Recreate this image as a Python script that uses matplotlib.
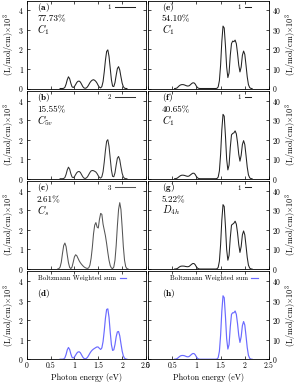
import numpy as np
import matplotlib
matplotlib.use("Agg")
import matplotlib.pyplot as plt

plt.rcParams['font.family'] = 'serif'
plt.rcParams['font.serif'] = ['cmr10']
plt.rcParams['mathtext.fontset'] = 'cm'
plt.rcParams['axes.unicode_minus'] = False
plt.rcParams['axes.formatter.use_mathtext'] = True

# energy grids (eV)
e_a = np.arange(0.700, 2.1001, 0.025)
e_c = np.arange(0.650, 2.1251, 0.025)
e_r = np.arange(0.550, 2.1501, 0.025)

# left column spectra, (L/mol/cm) x 10^3
spec_a = [0, 0, 0, 0.01, 0.06, 0.22, 0.45, 0.60, 0.50, 0.27, 0.09, 0.05, 0.10, 0.20,
          0.31, 0.37, 0.38, 0.33, 0.22, 0.10, 0.03, 0.01, 0.03, 0.09, 0.19, 0.30, 0.38,
          0.43, 0.45, 0.42, 0.36, 0.27, 0.15, 0.06, 0.03, 0.10, 0.35, 0.85, 1.45, 1.90,
          1.98, 1.65, 1.05, 0.45, 0.12, 0.10, 0.30, 0.68, 1.02, 1.12, 0.95, 0.60, 0.28,
          0.09, 0.02, 0, 0]
spec_b = [0, 0, 0, 0.01, 0.06, 0.22, 0.45, 0.59, 0.49, 0.26, 0.09, 0.05, 0.10, 0.21,
          0.31, 0.36, 0.37, 0.32, 0.21, 0.10, 0.03, 0.01, 0.04, 0.10, 0.21, 0.32, 0.40,
          0.42, 0.41, 0.38, 0.34, 0.26, 0.15, 0.06, 0.03, 0.10, 0.35, 0.85, 1.45, 1.92,
          2.00, 1.66, 1.05, 0.45, 0.12, 0.10, 0.30, 0.70, 1.05, 1.14, 0.97, 0.60, 0.28,
          0.09, 0.02, 0, 0]
spec_c = [0, 0.02, 0.10, 0.35, 0.80, 1.20, 1.33, 1.15, 0.72, 0.32, 0.08, 0.02, 0.10,
          0.35, 0.62, 0.73, 0.68, 0.55, 0.42, 0.32, 0.24, 0.17, 0.11, 0.07, 0.04, 0.03,
          0.06, 0.20, 0.55, 1.10, 1.80, 2.25, 2.38, 2.15, 2.10, 2.55, 2.85, 2.80, 2.30,
          2.00, 1.70, 1.30, 0.85, 0.45, 0.18, 0.05, 0.02, 0.10, 0.45, 1.20, 2.20, 3.05,
          3.40, 3.05, 2.15, 1.15, 0.45, 0.12, 0.02, 0]
spec_d = [0, 0, 0, 0.01, 0.07, 0.24, 0.48, 0.60, 0.50, 0.27, 0.10, 0.06, 0.11, 0.21,
          0.31, 0.37, 0.38, 0.33, 0.22, 0.11, 0.04, 0.02, 0.04, 0.10, 0.20, 0.31, 0.40,
          0.47, 0.52, 0.56, 0.60, 0.63, 0.62, 0.55, 0.50, 0.58, 0.90, 1.45, 2.10, 2.55,
          2.58, 2.15, 1.40, 0.75, 0.45, 0.48, 0.75, 1.15, 1.40, 1.42, 1.20, 0.80, 0.42,
          0.17, 0.05, 0.01, 0]

# right column spectra, (L/mol/cm) x 10^3
spec_e = [0, 0.05, 0.3, 0.9, 1.5, 1.85, 2.0, 2.0, 1.85, 1.6, 1.35, 1.25, 1.4, 1.9, 2.5,
          2.9, 2.9, 2.3, 1.2, 0.4, 0.08, 0, 0, 0, 0, 0, 0, 0, 0, 0, 0, 0, 0, 0, 0,
          0.1, 0.8, 4.0, 12.0, 24.0, 32.0, 31.0, 22.0, 11.0, 5.6, 8.0, 17.0, 23.0, 24.3,
          24.0, 24.8, 23.0, 18.0, 12.0, 8.5, 11.0, 17.0, 19.2, 17.5, 12.0, 6.0, 2.0,
          0.5, 0.05, 0]
spec_f = [0, 0.05, 0.25, 0.7, 1.2, 1.6, 1.8, 1.8, 1.7, 1.5, 1.3, 1.2, 1.4, 1.9, 2.4,
          2.8, 2.8, 2.2, 1.1, 0.4, 0.08, 0, 0, 0, 0, 0, 0, 0, 0, 0, 0, 0, 0, 0, 0,
          0.1, 0.8, 4.0, 12.5, 25.0, 33.0, 32.0, 22.0, 10.0, 4.5, 7.0, 16.0, 22.5, 23.2,
          23.5, 24.5, 23.0, 18.5, 12.5, 9.0, 12.0, 17.5, 19.5, 17.5, 12.0, 6.0, 2.0,
          0.5, 0.05, 0]
spec_g = [0, 0.05, 0.2, 0.6, 1.1, 1.4, 1.5, 1.5, 1.45, 1.3, 1.2, 1.15, 1.35, 1.85, 2.4,
          2.8, 2.8, 2.2, 1.1, 0.4, 0.08, 0, 0, 0, 0, 0, 0, 0, 0, 0, 0, 0, 0, 0, 0,
          0.1, 0.8, 4.0, 12.5, 25.0, 33.0, 32.0, 22.0, 10.0, 4.5, 7.0, 16.0, 22.5, 23.0,
          23.5, 24.5, 23.0, 18.5, 12.5, 8.5, 11.5, 17.5, 19.5, 17.5, 12.0, 6.0, 2.0,
          0.5, 0.05, 0]
spec_h = [0, 0.05, 0.3, 0.8, 1.35, 1.75, 1.9, 1.9, 1.8, 1.55, 1.3, 1.2, 1.4, 1.9, 2.5,
          2.9, 2.9, 2.3, 1.2, 0.4, 0.08, 0, 0, 0, 0, 0, 0, 0, 0, 0, 0, 0, 0, 0, 0,
          0.1, 0.8, 4.0, 12.2, 24.5, 32.5, 31.5, 22.0, 10.5, 5.2, 7.5, 16.5, 23.0, 23.8,
          23.8, 24.7, 23.0, 18.2, 12.2, 8.6, 11.5, 17.2, 19.3, 17.5, 12.0, 6.0, 2.0,
          0.5, 0.05, 0]

letters_left = ['a', 'b', 'c', 'd']
letters_right = ['e', 'f', 'g', 'h']
percent_left = ['77.73%', '15.55%', '2.61%']
percent_right = ['54.10%', '40.65%', '5.22%']
group_left = [r'$C_1$', r'$C_{5v}$', r'$C_s$']
group_right = [r'$C_1$', r'$C_1$', r'$D_{4h}$']
legend_left = ['1', '2', '3']
legend_right = ['1', '1', '1']
sum_label = 'Boltzmann Weighted sum'
xtick_labels = ['0', '0.5', '1', '1.5', '2', '2.5']

W, H = 297, 386
fig = plt.figure(figsize=(W / 100, H / 100), dpi=100)

fs_tick = 5.6
fs_txt = 6.6
fs_lab = 5.9
fs_leg = 4.9
ylab = r'(L/mol/cm)$\times10^3$'
blue = '#6a6aff'
line_colors = ['#222222', '#333333', '#555555']

left_x = [e_a, e_a, e_c, e_a]
left_y = [spec_a, spec_b, spec_c, spec_d]
right_y = [spec_e, spec_f, spec_g, spec_h]

row_bottom = [88.5, 178.7, 269.0, 359.2]
row_h = 87.8


def style(ax, right=False):
    ax.tick_params(direction='in', length=2.2, width=0.5, labelsize=fs_tick,
                   top=True, right=True, left=True, bottom=True, pad=2)
    for s in ax.spines.values():
        s.set_linewidth(0.6)
    ax.set_xlim(0, 2.5)
    ax.set_xticks([0, 0.5, 1, 1.5, 2, 2.5])
    if right:
        ax.set_ylim(0, 45)
        ax.set_yticks([0, 10, 20, 30, 40])
        ax.yaxis.tick_right()
        ax.tick_params(axis='y', left=True, right=True, pad=2.5)
        ax.yaxis.set_label_position('right')
        ax.set_ylabel(ylab, fontsize=fs_lab, labelpad=0.8)
    else:
        ax.set_ylim(0, 4.5)
        ax.set_yticks([0, 1, 2, 3, 4])
        ax.set_ylabel(ylab, fontsize=fs_lab, labelpad=2)


def key(ax, xr, hlen):
    ax.legend(loc='upper right', bbox_to_anchor=(xr, 0.96), frameon=False,
              fontsize=fs_leg, markerfirst=False, handlelength=hlen,
              handletextpad=0.5, borderaxespad=0, borderpad=0)


for i in range(4):
    b = row_bottom[i]
    axl = fig.add_axes([26.7 / W, 1 - b / H, 119.3 / W, row_h / H])
    axr = fig.add_axes([148.0 / W, 1 - b / H, 121.0 / W, row_h / H])
    style(axl)
    style(axr, right=True)
    if i < 3:
        axl.plot(left_x[i], left_y[i], color=line_colors[i], lw=0.75, label=legend_left[i])
        axr.plot(e_r, right_y[i], color='#222222', lw=0.75, label=legend_right[i])
        key(axl, 0.908, 3.0)
        key(axr, 0.855, 1.0)
        for ax, xt, let, pc, gr in [(axl, 0.086, letters_left[i], percent_left[i], group_left[i]),
                                    (axr, 0.116, letters_right[i], percent_right[i], group_right[i])]:
            ax.text(xt, 0.925, r'($\mathbf{' + let + '}$)', transform=ax.transAxes,
                    fontsize=fs_txt, va='center', ha='left')
            ax.text(xt, 0.785, pc, transform=ax.transAxes, fontsize=fs_txt,
                    va='center', ha='left')
            ax.text(xt, 0.665, gr, transform=ax.transAxes, fontsize=fs_txt + 0.8,
                    va='center', ha='left')
        axl.tick_params(labelbottom=False)
        axr.tick_params(labelbottom=False)
    else:
        axl.plot(left_x[i], left_y[i], color=blue, lw=0.85, label=sum_label)
        axr.plot(e_r, right_y[i], color=blue, lw=0.85, label=sum_label)
        key(axl, 0.835, 1.0)
        key(axr, 0.91, 1.0)
        for ax, xt, let in [(axl, 0.086, letters_left[i]), (axr, 0.116, letters_right[i])]:
            ax.text(xt, 0.745, r'($\mathbf{' + let + '}$)', transform=ax.transAxes,
                    fontsize=fs_txt, va='center', ha='left')
            ax.set_xticklabels(xtick_labels)
            ax.set_xlabel('Photon energy (eV)', fontsize=fs_lab, labelpad=2)

fig.savefig('out.png', dpi=100)
